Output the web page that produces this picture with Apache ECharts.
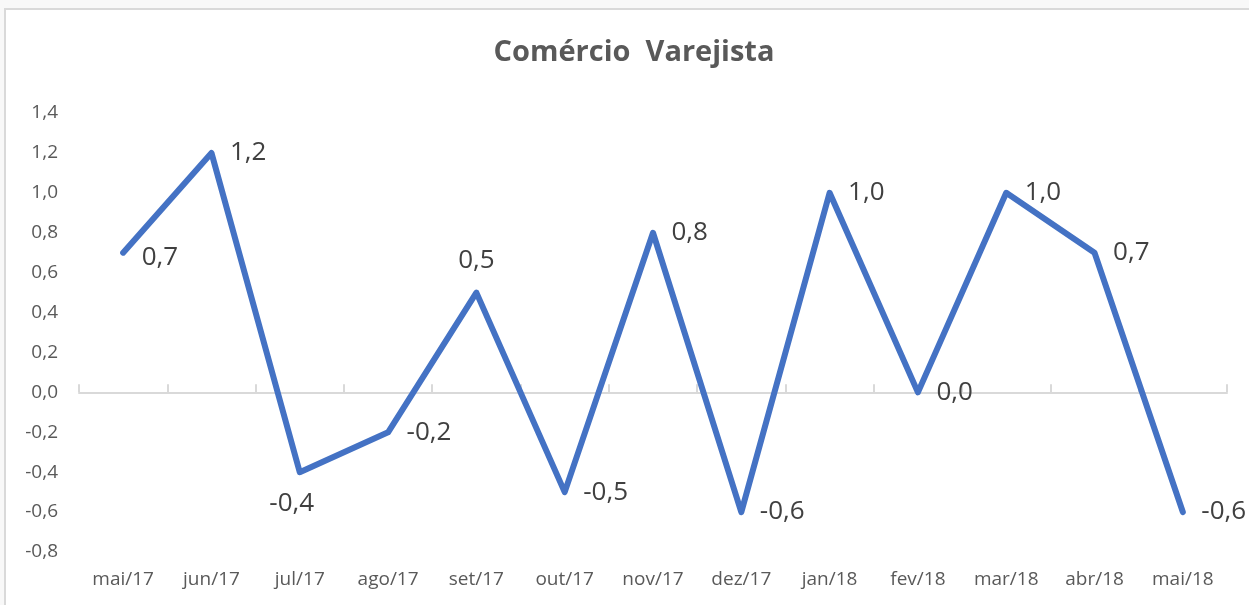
<!DOCTYPE html>
<html>
<head>
<meta charset="utf-8">
<script src="https://cdn.jsdelivr.net/npm/echarts@6/dist/echarts.min.js"></script>
<style>
  html, body { margin: 0; padding: 0; background: #f8f8f8; }
  #chart { width: 1249px; height: 605px; }
</style>
</head>
<body>
<div id="chart"></div>
<script>
  var months = ['mai/17', 'jun/17', 'jul/17', 'ago/17', 'set/17', 'out/17', 'nov/17',
                'dez/17', 'jan/18', 'fev/18', 'mar/18', 'abr/18', 'mai/18'];
  var varejo = [0.7, 1.2, -0.4, -0.2, 0.5, -0.5, 0.8, -0.6, 1.0, 0.0, 1.0, 0.7, -0.6];
  // where each value label sits
  var labelPos = ['right', 'right', 'bottom', 'right', 'top', 'right', 'right',
                  'right', 'right', 'right', 'right', 'right', 'right'];

  var fmt = function (v) { return Number(v).toFixed(1).replace('.', ','); };
  var font = '"Open Sans", "Noto Sans", sans-serif';

  var points = varejo.map(function (v, i) {
    var lab = { show: true, position: labelPos[i] };
    if (i === 0) lab.offset = [0, 5];
    if (i === 2) lab.offset = [-8, 0];
    return { value: v, label: lab };
  });

  var chart = echarts.init(document.getElementById('chart'));
  chart.setOption({
    backgroundColor: '#f8f8f8',
    animation: false,
    graphic: [{
      type: 'rect',
      z: -10,
      shape: { x: 5, y: 9, width: 1260, height: 620 },
      style: { fill: '#ffffff', stroke: '#d9d9d9', lineWidth: 2 }
    }],
    title: {
      text: 'Comércio  Varejista',
      left: 629,
      textAlign: 'center',
      top: 33,
      textStyle: { fontFamily: font, fontSize: 29, fontWeight: 'bold', color: '#595959' }
    },
    grid: { left: 79, right: 22, top: 113, bottom: 53, containLabel: false },
    xAxis: [{
      type: 'category',
      data: months,
      position: 'bottom',
      axisLine: { show: false, onZero: false },
      axisTick: { show: false },
      axisLabel: { margin: 18, fontFamily: font, fontSize: 19, color: '#595959' }
    }, {
      type: 'category',
      data: months,
      position: 'bottom',
      axisLine: { show: true, onZero: true, lineStyle: { color: '#d9d9d9', width: 2 } },
      axisTick: { show: true, inside: true, length: 8, lineStyle: { color: '#d9d9d9', width: 2 } },
      axisLabel: { show: false }
    }],
    yAxis: {
      type: 'value',
      min: -0.8,
      max: 1.4,
      interval: 0.2,
      axisLine: { show: false },
      axisTick: { show: false },
      splitLine: { show: false },
      axisLabel: { margin: 21, fontFamily: font, fontSize: 19, color: '#595959', formatter: fmt }
    },
    series: [{
      type: 'line',
      xAxisIndex: 0,
      data: points,
      symbol: 'circle',
      symbolSize: 1,
      showSymbol: true,
      itemStyle: { color: 'rgba(68,114,196,0)' },
      lineStyle: { color: '#4472c4', width: 6, cap: 'round', join: 'round' },
      label: {
        show: true,
        distance: 18,
        fontFamily: font,
        fontSize: 26,
        color: '#404040',
        formatter: function (p) { return fmt(p.value); }
      }
    }]
  });
</script>
</body>
</html>
